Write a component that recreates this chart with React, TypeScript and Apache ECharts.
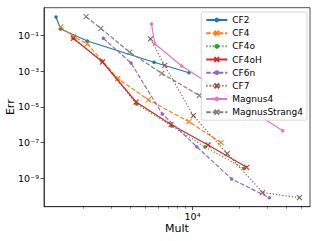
import React, { useEffect, useRef } from 'react';
import * as echarts from 'echarts';

// [Mult, Err] pairs
const seriesNames = ['CF2', 'CF4', 'CF4o', 'CF4oH', 'CF6n', 'CF7', 'Magnus4', 'MagnusStrang4'];

const cf2: [number, number][] = [[1334, 1.09], [1426, 0.231], [2118, 0.0492], [5666, 3.15e-3], [9496, 8.13e-4]];
const cf4: [number, number][] = [[1429, 0.307], [1722, 0.0879], [2118, 0.0338], [3316, 3.9e-4], [5209, 2.5e-5], [9496, 1.48e-6], [15240, 9.87e-8]];
const cf4o: [number, number][] = [[1722, 0.0679], [2630, 3.72e-3], [4375, 1.45e-5], [7355, 8.51e-7], [12030, 5.67e-8], [21380, 3.54e-9]];
const cf4oH: [number, number][] = [[1722, 0.0697], [2650, 3.27e-3], [4345, 1.88e-5], [7280, 1.03e-6], [12570, 7.34e-8], [22230, 4.13e-9]];
const cf6n: [number, number][] = [[2681, 0.0697], [4034, 2.88e-3], [6400, 4.0e-6], [10640, 5.89e-8], [17830, 9.14e-10], [31050, 8.18e-11]];
const cf7: [number, number][] = [[5378, 0.0637], [6633, 2.09e-3], [10120, 3.21e-6], [16710, 2.39e-8], [28120, 1.6e-10], [48420, 8.18e-11]];
const magnus4: [number, number][] = [[5459, 0.44], [5726, 0.0347], [8524, 1.95e-3], [37840, 4.64e-7]];
const magnusStrang4: [number, number][] = [[2077, 1.13], [2581, 0.253], [3957, 0.0116], [6350, 7.62e-4], [11060, 4.35e-5]];

const seriesData = [cf2, cf4, cf4o, cf4oH, cf6n, cf7, magnus4, magnusStrang4];

const xMajorTicks = [10000];
const xMinorTicks = [2000, 3000, 4000, 5000, 6000, 7000, 8000, 9000, 20000, 30000, 40000, 50000];
const yMajorTicks = [1e-9, 1e-7, 1e-5, 1e-3, 1e-1];

const X_MIN = 1117;
const X_MAX = 56620;
const Y_MIN = 2.57e-11;
const Y_MAX = 3.6;

const colors = ['#1f77b4', '#ff7f0e', '#2ca02c', '#d62728', '#9467bd', '#8c564b', '#e377c2', '#7f7f7f'];
const DASHED = [4.4, 1.9];
const DOTTED = [1.2, 2];
const lineTypes: any[] = ['solid', DASHED, DOTTED, 'solid', DASHED, DOTTED, 'solid', DASHED];
const markers = ['dot', 'x', 'dot', 'x', 'dot', 'x', 'dot', 'x'];

const X_MARK = 'path://M0,0L10,10M10,0L0,10';

const SUP: Record<string, string> = {
  '-': '\u207B', '0': '\u2070', '1': '\u00B9', '2': '\u00B2', '3': '\u00B3', '4': '\u2074',
  '5': '\u2075', '6': '\u2076', '7': '\u2077', '8': '\u2078', '9': '\u2079',
};
const powLabel = (v: number) => {
  const e = Math.round(Math.log10(v));
  return '10' + String(e).split('').map((c) => SUP[c] || c).join('');
};

const FONT = 'DejaVu Sans';

export default function App() {
  const ref = useRef<HTMLDivElement>(null);
  useEffect(() => {
    if (!ref.current) return;
    const chart = echarts.init(ref.current, undefined, { renderer: 'svg' });
    const series = seriesNames.map((name, i) => {
      const isX = markers[i] === 'x';
      return {
        name,
        type: 'line',
        xAxisIndex: 0,
        yAxisIndex: 0,
        data: seriesData[i],
        symbol: isX ? X_MARK : 'circle',
        symbolSize: isX ? 5 : 3.5,
        showSymbol: true,
        lineStyle: { color: colors[i], width: 1.2, type: lineTypes[i] },
        itemStyle: { color: colors[i], borderColor: colors[i], borderWidth: isX ? 1.1 : 0 },
        emphasis: { disabled: true },
        z: 2 + i * 0.01,
      };
    });
    chart.setOption({
      animation: false,
      backgroundColor: '#fff',
      textStyle: { fontFamily: FONT },
      grid: {
        left: 44,
        right: 6,
        top: 7.7,
        bottom: 34.3,
        containLabel: false,
        outerBoundsMode: 'none',
        show: true,
        borderColor: '#222',
        borderWidth: 0.8,
        backgroundColor: 'transparent',
      },
      legend: {
        show: true,
        orient: 'vertical',
        right: 9,
        top: 12,
        data: seriesNames,
        itemWidth: 21,
        itemHeight: 6,
        itemGap: 2.17,
        itemTextGap: 5,
        padding: [2.5, 4, 2.5, 4],
        backgroundColor: 'rgba(255,255,255,0.8)',
        borderColor: '#cccccc',
        borderWidth: 0.8,
        borderRadius: 2,
        textStyle: { fontFamily: FONT, fontSize: 9, color: '#000', lineHeight: 11 },
        selectedMode: false,
      },
      xAxis: [
        {
          type: 'log',
          min: X_MIN,
          max: X_MAX,
          logBase: 10,
          name: 'Mult',
          nameLocation: 'middle',
          nameGap: 16,
          nameMoveOverlap: false,
          nameTextStyle: { fontFamily: FONT, fontSize: 11, color: '#000' },
          axisLine: { show: true, lineStyle: { color: '#222', width: 0.8 } },
          axisTick: { show: true, length: 3.5, inside: false, lineStyle: { color: '#222', width: 0.8 }, customValues: xMajorTicks },
          axisLabel: { show: true, margin: 5, fontFamily: FONT, fontSize: 9.5, color: '#000', customValues: xMajorTicks, formatter: (v: number) => powLabel(v) },
          splitLine: { show: false },
          minorTick: { show: false },
        },
        {
          type: 'log',
          min: X_MIN,
          max: X_MAX,
          logBase: 10,
          position: 'bottom',
          axisLine: { show: false },
          axisTick: { show: true, length: 2, inside: false, lineStyle: { color: '#222', width: 0.6 }, customValues: xMinorTicks },
          axisLabel: { show: false },
          splitLine: { show: false },
        },
      ],
      yAxis: {
        type: 'log',
        min: Y_MIN,
        max: Y_MAX,
        logBase: 10,
        name: 'Err',
        nameLocation: 'middle',
        nameGap: 28,
        nameMoveOverlap: false,
        nameTextStyle: { fontFamily: FONT, fontSize: 11, color: '#000' },
        axisLine: { show: true, lineStyle: { color: '#222', width: 0.8 } },
        axisTick: { show: true, length: 3.5, inside: false, lineStyle: { color: '#222', width: 0.8 }, customValues: yMajorTicks },
        axisLabel: { show: true, margin: 5, fontFamily: FONT, fontSize: 9.5, color: '#000', customValues: yMajorTicks, formatter: (v: number) => powLabel(v) },
        splitLine: { show: false },
      },
      series,
    });
    return () => chart.dispose();
  }, []);
  return <div ref={ref} style={{ position: 'fixed', left: 0, top: 0, width: 316, height: 241 }} />;
}
